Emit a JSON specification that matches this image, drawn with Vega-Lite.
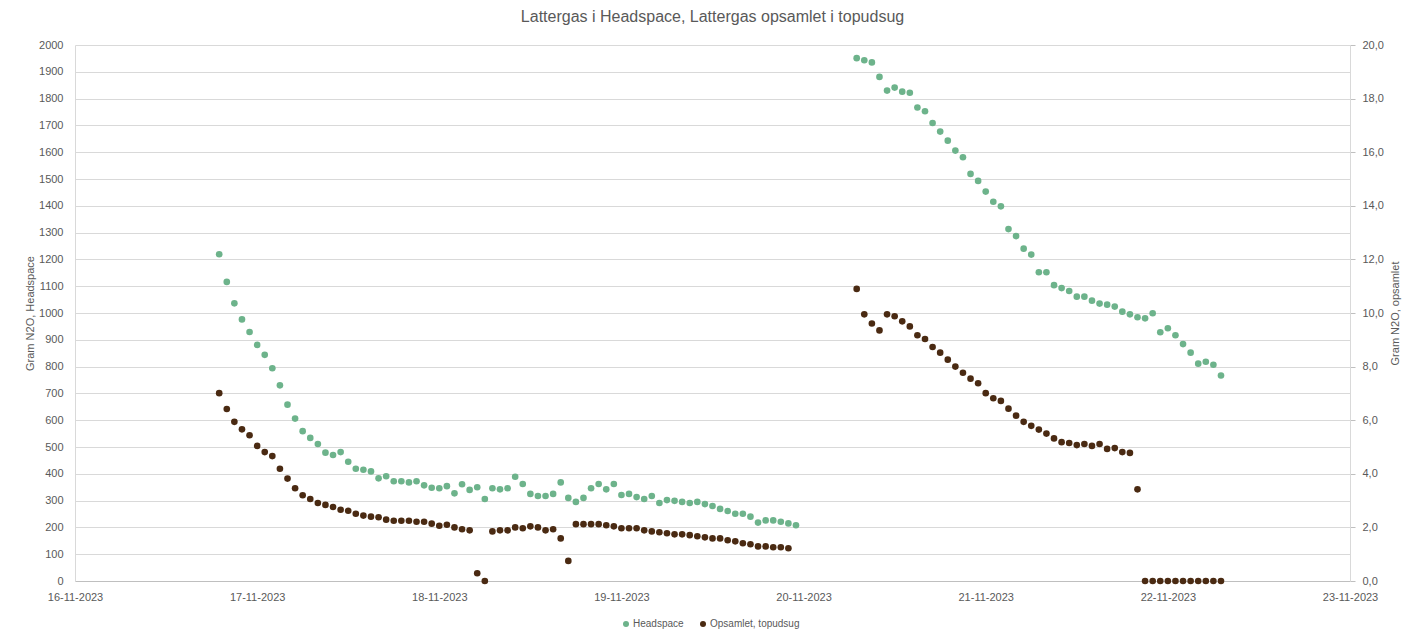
{
  "$schema": "https://vega.github.io/schema/vega-lite/v6.json",
  "width": 1275,
  "height": 536,
  "autosize": {"type": "none"},
  "padding": {"left": 75, "top": 45, "right": 63, "bottom": 53},
  "background": "white",
  "title": {"text": "Lattergas i Headspace, Lattergas opsamlet i topudsug", "fontSize": 16, "font": "Liberation Sans", "fontWeight": "normal", "color": "#595959", "anchor": "middle", "offset": 14},
  "data": {"values": [
    {"t": "2023-11-16T19:00", "h": 1219, "o": 7.01},
    {"t": "2023-11-16T20:00", "h": 1116, "o": 6.42},
    {"t": "2023-11-16T21:00", "h": 1036, "o": 5.94},
    {"t": "2023-11-16T22:00", "h": 976, "o": 5.66},
    {"t": "2023-11-16T23:00", "h": 929, "o": 5.44},
    {"t": "2023-11-17T00:00", "h": 881, "o": 5.04},
    {"t": "2023-11-17T01:00", "h": 844, "o": 4.81},
    {"t": "2023-11-17T02:00", "h": 794, "o": 4.66},
    {"t": "2023-11-17T03:00", "h": 730, "o": 4.19},
    {"t": "2023-11-17T04:00", "h": 658, "o": 3.82},
    {"t": "2023-11-17T05:00", "h": 606, "o": 3.46},
    {"t": "2023-11-17T06:00", "h": 559, "o": 3.20},
    {"t": "2023-11-17T07:00", "h": 534, "o": 3.06},
    {"t": "2023-11-17T08:00", "h": 511, "o": 2.91},
    {"t": "2023-11-17T09:00", "h": 479, "o": 2.84},
    {"t": "2023-11-17T10:00", "h": 470, "o": 2.76},
    {"t": "2023-11-17T11:00", "h": 481, "o": 2.66},
    {"t": "2023-11-17T12:00", "h": 445, "o": 2.62},
    {"t": "2023-11-17T13:00", "h": 419, "o": 2.51},
    {"t": "2023-11-17T14:00", "h": 415, "o": 2.44},
    {"t": "2023-11-17T15:00", "h": 409, "o": 2.40},
    {"t": "2023-11-17T16:00", "h": 383, "o": 2.38},
    {"t": "2023-11-17T17:00", "h": 391, "o": 2.29},
    {"t": "2023-11-17T18:00", "h": 372, "o": 2.25},
    {"t": "2023-11-17T19:00", "h": 372, "o": 2.25},
    {"t": "2023-11-17T20:00", "h": 368, "o": 2.25},
    {"t": "2023-11-17T21:00", "h": 372, "o": 2.21},
    {"t": "2023-11-17T22:00", "h": 357, "o": 2.21},
    {"t": "2023-11-17T23:00", "h": 348, "o": 2.14},
    {"t": "2023-11-18T00:00", "h": 346, "o": 2.06},
    {"t": "2023-11-18T01:00", "h": 354, "o": 2.10},
    {"t": "2023-11-18T02:00", "h": 327, "o": 2.00},
    {"t": "2023-11-18T03:00", "h": 361, "o": 1.93},
    {"t": "2023-11-18T04:00", "h": 340, "o": 1.89},
    {"t": "2023-11-18T05:00", "h": 350, "o": 0.29},
    {"t": "2023-11-18T06:00", "h": 306, "o": 0.0},
    {"t": "2023-11-18T07:00", "h": 346, "o": 1.85},
    {"t": "2023-11-18T08:00", "h": 342, "o": 1.89},
    {"t": "2023-11-18T09:00", "h": 346, "o": 1.89},
    {"t": "2023-11-18T10:00", "h": 389, "o": 2.00},
    {"t": "2023-11-18T11:00", "h": 362, "o": 1.97},
    {"t": "2023-11-18T12:00", "h": 325, "o": 2.04},
    {"t": "2023-11-18T13:00", "h": 317, "o": 2.00},
    {"t": "2023-11-18T14:00", "h": 317, "o": 1.89},
    {"t": "2023-11-18T15:00", "h": 325, "o": 1.93},
    {"t": "2023-11-18T16:00", "h": 368, "o": 1.59},
    {"t": "2023-11-18T17:00", "h": 310, "o": 0.75},
    {"t": "2023-11-18T18:00", "h": 295, "o": 2.12},
    {"t": "2023-11-18T19:00", "h": 310, "o": 2.12},
    {"t": "2023-11-18T20:00", "h": 346, "o": 2.12},
    {"t": "2023-11-18T21:00", "h": 362, "o": 2.12},
    {"t": "2023-11-18T22:00", "h": 342, "o": 2.08},
    {"t": "2023-11-18T23:00", "h": 362, "o": 2.04},
    {"t": "2023-11-19T00:00", "h": 321, "o": 1.97},
    {"t": "2023-11-19T01:00", "h": 325, "o": 1.97},
    {"t": "2023-11-19T02:00", "h": 313, "o": 1.97},
    {"t": "2023-11-19T03:00", "h": 306, "o": 1.89},
    {"t": "2023-11-19T04:00", "h": 317, "o": 1.85},
    {"t": "2023-11-19T05:00", "h": 291, "o": 1.82},
    {"t": "2023-11-19T06:00", "h": 302, "o": 1.78},
    {"t": "2023-11-19T07:00", "h": 299, "o": 1.74},
    {"t": "2023-11-19T08:00", "h": 295, "o": 1.74},
    {"t": "2023-11-19T09:00", "h": 291, "o": 1.71},
    {"t": "2023-11-19T10:00", "h": 295, "o": 1.67},
    {"t": "2023-11-19T11:00", "h": 287, "o": 1.63},
    {"t": "2023-11-19T12:00", "h": 280, "o": 1.59},
    {"t": "2023-11-19T13:00", "h": 269, "o": 1.59},
    {"t": "2023-11-19T14:00", "h": 261, "o": 1.52},
    {"t": "2023-11-19T15:00", "h": 251, "o": 1.48},
    {"t": "2023-11-19T16:00", "h": 251, "o": 1.41},
    {"t": "2023-11-19T17:00", "h": 240, "o": 1.37},
    {"t": "2023-11-19T18:00", "h": 218, "o": 1.29},
    {"t": "2023-11-19T19:00", "h": 226, "o": 1.29},
    {"t": "2023-11-19T20:00", "h": 226, "o": 1.26},
    {"t": "2023-11-19T21:00", "h": 221, "o": 1.26},
    {"t": "2023-11-19T22:00", "h": 215, "o": 1.22},
    {"t": "2023-11-19T23:00", "h": 208, "o": null},
    {"t": "2023-11-20T07:00", "h": 1951, "o": 10.90},
    {"t": "2023-11-20T08:00", "h": 1943, "o": 9.95},
    {"t": "2023-11-20T09:00", "h": 1935, "o": 9.61},
    {"t": "2023-11-20T10:00", "h": 1881, "o": 9.35},
    {"t": "2023-11-20T11:00", "h": 1830, "o": 9.95},
    {"t": "2023-11-20T12:00", "h": 1841, "o": 9.88},
    {"t": "2023-11-20T13:00", "h": 1826, "o": 9.69},
    {"t": "2023-11-20T14:00", "h": 1822, "o": 9.50},
    {"t": "2023-11-20T15:00", "h": 1767, "o": 9.17},
    {"t": "2023-11-20T16:00", "h": 1753, "o": 9.03},
    {"t": "2023-11-20T17:00", "h": 1709, "o": 8.73},
    {"t": "2023-11-20T18:00", "h": 1677, "o": 8.52},
    {"t": "2023-11-20T19:00", "h": 1643, "o": 8.26},
    {"t": "2023-11-20T20:00", "h": 1606, "o": 8.00},
    {"t": "2023-11-20T21:00", "h": 1581, "o": 7.77},
    {"t": "2023-11-20T22:00", "h": 1519, "o": 7.55},
    {"t": "2023-11-20T23:00", "h": 1493, "o": 7.38},
    {"t": "2023-11-21T00:00", "h": 1453, "o": 7.01},
    {"t": "2023-11-21T01:00", "h": 1415, "o": 6.82},
    {"t": "2023-11-21T02:00", "h": 1398, "o": 6.72},
    {"t": "2023-11-21T03:00", "h": 1313, "o": 6.43},
    {"t": "2023-11-21T04:00", "h": 1287, "o": 6.17},
    {"t": "2023-11-21T05:00", "h": 1240, "o": 5.94},
    {"t": "2023-11-21T06:00", "h": 1218, "o": 5.79},
    {"t": "2023-11-21T07:00", "h": 1152, "o": 5.65},
    {"t": "2023-11-21T08:00", "h": 1152, "o": 5.50},
    {"t": "2023-11-21T09:00", "h": 1104, "o": 5.32},
    {"t": "2023-11-21T10:00", "h": 1093, "o": 5.18},
    {"t": "2023-11-21T11:00", "h": 1082, "o": 5.15},
    {"t": "2023-11-21T12:00", "h": 1061, "o": 5.07},
    {"t": "2023-11-21T13:00", "h": 1061, "o": 5.11},
    {"t": "2023-11-21T14:00", "h": 1046, "o": 5.04},
    {"t": "2023-11-21T15:00", "h": 1035, "o": 5.11},
    {"t": "2023-11-21T16:00", "h": 1031, "o": 4.93},
    {"t": "2023-11-21T17:00", "h": 1024, "o": 4.96},
    {"t": "2023-11-21T18:00", "h": 1005, "o": 4.81},
    {"t": "2023-11-21T19:00", "h": 995, "o": 4.78},
    {"t": "2023-11-21T20:00", "h": 984, "o": 3.42},
    {"t": "2023-11-21T21:00", "h": 980, "o": 0},
    {"t": "2023-11-21T22:00", "h": 999, "o": 0},
    {"t": "2023-11-21T23:00", "h": 928, "o": 0},
    {"t": "2023-11-22T00:00", "h": 943, "o": 0},
    {"t": "2023-11-22T01:00", "h": 917, "o": 0},
    {"t": "2023-11-22T02:00", "h": 884, "o": 0},
    {"t": "2023-11-22T03:00", "h": 852, "o": 0},
    {"t": "2023-11-22T04:00", "h": 811, "o": 0},
    {"t": "2023-11-22T05:00", "h": 818, "o": 0},
    {"t": "2023-11-22T06:00", "h": 807, "o": 0},
    {"t": "2023-11-22T07:00", "h": 767, "o": 0}
  ]},
  "encoding": {
    "x": {
      "field": "t", "type": "temporal",
      "scale": {"domain": [{"year": 2023, "month": 11, "date": 16}, {"year": 2023, "month": 11, "date": 23}]},
      "axis": {"title": null, "format": "%d-%m-%Y", "tickCount": {"interval": "day", "step": 1}, "labelFontSize": 11, "labelFont": "Liberation Sans", "labelColor": "#595959", "labelPadding": 10, "ticks": false, "grid": false, "domainColor": "#bfbfbf", "labelFlush": false, "labelOverlap": false}
    }
  },
  "layer": [
    {
      "mark": {"type": "circle", "size": 44, "opacity": 1},
      "encoding": {
        "y": {"field": "h", "type": "quantitative", "scale": {"domain": [0, 2000], "nice": false},
          "axis": {"title": "Gram N2O, Headspace", "values": [0,100,200,300,400,500,600,700,800,900,1000,1100,1200,1300,1400,1500,1600,1700,1800,1900,2000], "format": "d", "grid": true, "gridColor": "#d9d9d9", "ticks": false, "domain": true, "domainColor": "#d9d9d9", "labelPadding": 12, "labelFontSize": 11, "labelFont": "Liberation Sans", "labelColor": "#595959", "titleFontSize": 11, "titleFont": "Liberation Sans", "titleFontWeight": "normal", "titleColor": "#595959", "titlePadding": 3}},
        "color": {"datum": "Headspace", "type": "nominal",
          "scale": {"domain": ["Headspace", "Opsamlet, topudsug"], "range": ["#6db38b", "#4a2a12"]},
          "legend": {"orient": "none", "legendX": 546, "legendY": 574, "direction": "horizontal", "title": null, "labelFontSize": 10, "labelFont": "Liberation Sans", "labelColor": "#595959", "symbolSize": 36, "symbolType": "circle", "columnPadding": 14, "labelOffset": 2}}
      }
    },
    {
      "mark": {"type": "circle", "size": 44, "opacity": 1},
      "encoding": {
        "y": {"field": "o", "type": "quantitative", "scale": {"domain": [0, 20], "nice": false},
          "axis": {"orient": "right", "title": "Gram N2O, opsamlet", "values": [0,2,4,6,8,10,12,14,16,18,20], "labelExpr": "replace(format(datum.value, '.1f'), '.', ',')", "grid": false, "ticks": true, "tickSize": 5, "tickColor": "#bfbfbf", "domain": true, "domainColor": "#d9d9d9", "labelPadding": 7, "labelFontSize": 11, "labelFont": "Liberation Sans", "labelColor": "#595959", "titleFontSize": 11, "titleFont": "Liberation Sans", "titleFontWeight": "normal", "titleColor": "#595959", "titlePadding": 6, "titleAngle": -90, "titleBaseline": "top"}},
        "color": {"datum": "Opsamlet, topudsug", "type": "nominal"}
      }
    }
  ],
  "resolve": {"scale": {"y": "independent"}},
  "config": {"view": {"stroke": null}, "font": "Liberation Sans"}
}
